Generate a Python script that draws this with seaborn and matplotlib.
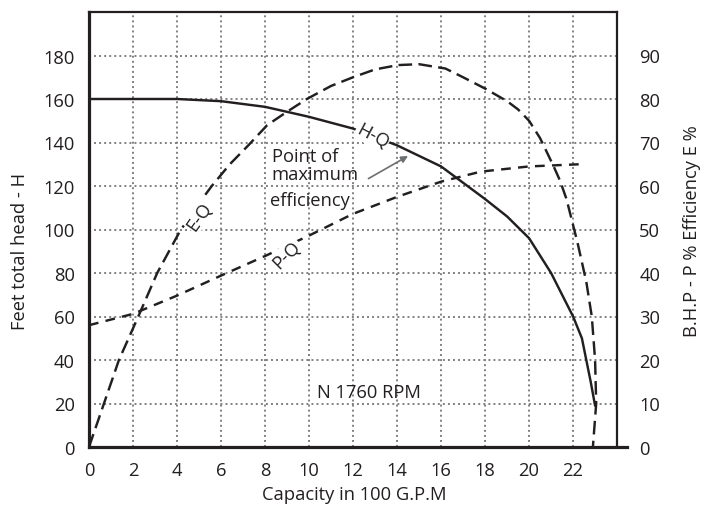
import matplotlib
matplotlib.use("Agg")
import matplotlib.pyplot as plt
import seaborn as sns

# ---- data ----
q_hq = [0, 2, 4, 6, 8, 10, 12, 14, 16, 18, 19, 20, 20.5, 21, 21.5, 22, 22.4, 22.6, 22.8, 23.0]
head = [160, 160, 160, 159, 156.4, 151.8, 146.4, 138.7, 129, 114, 106, 96, 88, 80, 70, 60, 50, 40, 30, 19]

q_eq = [0, 0.68, 1.36, 2.24, 3.1, 4.12, 4.85, 5.58, 6.4, 7.27, 8.1, 8.98, 9.9, 11, 12, 13, 14.05, 15,
        16.2, 17, 18, 19, 19.5, 20, 20.5, 21.1, 21.4, 21.7, 21.95, 22.2, 22.6, 22.85, 23.0, 23.05, 22.9]
eff = [0, 10, 20, 30, 40, 49.5, 55, 60, 65, 69.5, 74, 77, 80, 83, 85, 86.8, 87.8, 88,
       87, 85, 82.4, 79.5, 77.6, 75, 71, 64.7, 61.3, 57, 52, 47, 38, 30, 20, 10, 0]

q_pq = [0, 2, 4, 6, 8, 10, 12, 14, 16, 17.8, 20, 22.3]
bhp = [28, 30.6, 34.8, 39.4, 43.9, 48.6, 53.6, 57.5, 61, 63.3, 64.5, 65]

x_ticks = [0, 2, 4, 6, 8, 10, 12, 14, 16, 18, 20, 22]
h_ticks = [0, 20, 40, 60, 80, 100, 120, 140, 160, 180]
pct_ticks = [0, 10, 20, 30, 40, 50, 60, 70, 80, 90]

sns.set_style("white")
plt.rcParams['font.family'] = ['Open Sans', 'DejaVu Sans']

INK = '#231f20'
fig = plt.figure(figsize=(7.03, 5.10), dpi=100)
ax = fig.add_axes([89/703, 1 - 448/510, (627 - 89)/703, (448 - 13)/510])
ax2 = ax.twinx()

XR = 24  # right frame position (data)
ax.set_xlim(0, 24.45)
ax.set_ylim(0, 200)
ax2.set_ylim(0, 100)

grid_kw = dict(color='#808080', linewidth=1.4, linestyle=(0, (1, 1.6)), zorder=0)
ax.vlines(x_ticks[1:], 0, 200, **grid_kw)
ax.hlines(h_ticks[1:], 0, XR, **grid_kw)

lw = 1.75
sns.lineplot(x=q_hq, y=head, ax=ax, color=INK, linewidth=lw, sort=False, estimator=None, zorder=3)
sns.lineplot(x=q_eq, y=eff, ax=ax2, color=INK, linewidth=lw, sort=False, estimator=None, zorder=3)
sns.lineplot(x=q_pq, y=bhp, ax=ax2, color=INK, linewidth=lw, sort=False, estimator=None, zorder=3)
ax2.lines[0].set_dashes([5.6, 2.6])
ax2.lines[1].set_dashes([4.0, 3.0])
for ln in ax.lines + ax2.lines:
    ln.set_solid_joinstyle('round')
    ln.set_dash_joinstyle('round')

# spines
for s in ['top', 'right', 'left', 'bottom']:
    ax2.spines[s].set_visible(False)
ax.spines['right'].set_visible(False)
ax.spines['left'].set_linewidth(2.3)
ax.spines['bottom'].set_linewidth(2.3)
ax.spines['top'].set_linewidth(1.6)
ax.spines['top'].set_bounds(0, XR)
for s in ['left', 'bottom', 'top']:
    ax.spines[s].set_color(INK)
ax2.spines['right'].set_visible(True)
ax2.spines['right'].set_position(('data', XR))
ax2.spines['right'].set_linewidth(1.6)
ax2.spines['right'].set_color(INK)

fs = 13.2
ax.set_xticks(x_ticks)
ax.set_yticks(h_ticks)
ax2.set_yticks(pct_ticks)
ax.tick_params(axis='both', length=0, labelsize=fs, colors=INK)
ax.tick_params(axis='x', pad=10)
ax.tick_params(axis='y', pad=10)
ax2.tick_params(axis='y', length=0, labelsize=fs, colors=INK, pad=16)

ax.set_xlabel('Capacity in 100 G.P.M', fontsize=fs, color=INK)
ax.set_ylabel('Feet total head - H', fontsize=fs, color=INK)
ax2.set_ylabel('B.H.P - P % Efficiency E %', fontsize=fs, color=INK)
ax.xaxis.label.set_va('center')
ax.yaxis.label.set_va('center')
ax2.yaxis.label.set_va('center')
ax.xaxis.set_label_coords((354 - 89) / 538, (448 - 495) / 435)
ax.yaxis.set_label_coords((20 - 89) / 538, (448 - 251) / 435)
ax2.yaxis.set_label_coords((692 - 89) / 538, (448 - 231) / 435)

bb = dict(boxstyle='square,pad=0.05', facecolor='white', edgecolor='none')
ax2.text(12.88, 143, 'H-Q', transform=ax.transData, rotation=-28, fontsize=fs, ha='center', va='center',
         color=INK, bbox=bb, zorder=5)
ax2.text(5.0, 53, 'E-Q', rotation=55, fontsize=fs, ha='center', va='center',
         color=INK, bbox=bb, zorder=5)
ax2.text(9.0, 44.4, 'P-Q', rotation=45, fontsize=fs, ha='center', va='center',
         color=INK, bbox=bb, zorder=5)

ax.text(8.3, 134, 'Point of', fontsize=fs, ha='left', va='center', color=INK, zorder=5)
ax.text(8.3, 125.7, 'maximum', fontsize=fs, ha='left', va='center', color=INK, zorder=5)
ax.text(8.23, 113.4, 'efficiency', fontsize=fs, ha='left', va='center', color=INK, zorder=5)
ax.annotate('', xy=(14.5, 133.8), xytext=(12.7, 123.4),
            arrowprops=dict(arrowstyle='-|>', color='#6d6e71', lw=1.2, mutation_scale=10,
                            shrinkA=0, shrinkB=0), zorder=5)
ax.text(12.7, 25.3, 'N 1760 RPM', fontsize=fs, ha='center', va='center', color=INK, zorder=5)

fig.savefig('out.png', dpi=100)
